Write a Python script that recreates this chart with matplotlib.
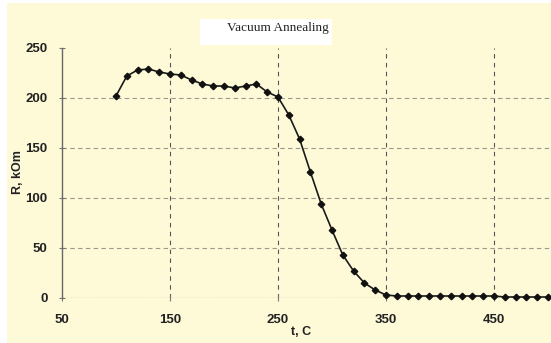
import matplotlib.pyplot as plt
from matplotlib.patches import Rectangle

# resistance vs annealing temperature
temp = [100, 110, 120, 130, 140, 150, 160, 170, 180, 190, 200, 210, 220, 230, 240,
        250, 260, 270, 280, 290, 300, 310, 320, 330, 340, 350, 360, 370, 380, 390,
        400, 410, 420, 430, 440, 450, 460, 470, 480, 490, 500]
resist = [202, 222, 228, 229, 226, 224, 223, 218, 214, 212, 212, 210, 212, 214, 206,
          201, 183, 159, 126, 94, 68, 43, 27, 15, 8, 3, 2, 2, 2, 2,
          2, 2, 2, 2, 2, 2, 1, 1, 1, 1, 1]
xticks = [50, 150, 250, 350, 450]
yticks = [0, 50, 100, 150, 200, 250]

W, H = 551, 343
fig = plt.figure(figsize=(W / 100, H / 100), dpi=100)
fig.patch.set_facecolor("white")

# pale yellow panel behind everything
bg = "#fefad8"
fig.patches.append(Rectangle((7 / W, 0), 1, 1 - 3 / H, transform=fig.transFigure,
                             facecolor=bg, edgecolor="none", zorder=-5))

ax = fig.add_axes([62 / W, 1 - 298 / H, (W - 62) / W, 250 / H])
ax.set_facecolor("none")
ax.set_xlim(50, 50 + (W - 62) / 1.08)
ax.set_ylim(0, 250)

ax.spines["top"].set_visible(False)
ax.spines["right"].set_visible(False)
ax.spines["bottom"].set_visible(False)
ax.spines["left"].set_color("#666666")
ax.spines["left"].set_linewidth(1.0)

# dashed grid
for v in [150, 250, 350, 450]:
    ax.axvline(v, color="#555555", lw=0.8, dashes=(4, 4), zorder=1)
for v in [50, 100, 150, 200]:
    ax.axhline(v, color="#9a9a8a", lw=0.8, dashes=(4, 3), zorder=1)
ax.axhline(0, color="#a09a88", lw=0.9, dashes=(2, 1), zorder=1)

ax.plot(temp, resist, color="#1a1a1a", lw=1.2, marker="D", ms=3.3,
        markerfacecolor="#111111", markeredgecolor="#111111", clip_on=False, zorder=3)

ax.set_xticks(xticks)
ax.set_yticks(yticks)
tick_font = dict(family="Liberation Sans", size=9.5, weight="bold")
ax.set_xticklabels([str(t) for t in xticks], **tick_font, color="#222222")
ax.set_yticklabels([str(t) for t in yticks], **tick_font, color="#222222")
ax.tick_params(axis="x", direction="inout", length=5, width=0.8, color="#777777", pad=9)
ax.tick_params(axis="y", direction="inout", length=5, width=0.8, color="#777777", pad=8)

fig.text(301 / W, 1 - 332 / H, "t, C", ha="center", va="center",
         family="Liberation Sans", size=9, weight="bold", color="#222222")
fig.text(18 / W, 1 - 172 / H, "R, kOm", ha="center", va="center", rotation=90,
         family="Liberation Sans", size=9, weight="bold", color="#222222")

# title box
fig.patches.append(Rectangle((200 / W, 1 - 45 / H), 132 / W, 26 / H,
                             transform=fig.transFigure, facecolor="white",
                             edgecolor="none", zorder=2))
fig.text(278 / W, 1 - 28 / H, "Vacuum Annealing", ha="center", va="center",
         family="Liberation Serif", size=9.5, color="#222222", zorder=3)

fig.savefig("out.png", dpi=100, facecolor=fig.get_facecolor())
